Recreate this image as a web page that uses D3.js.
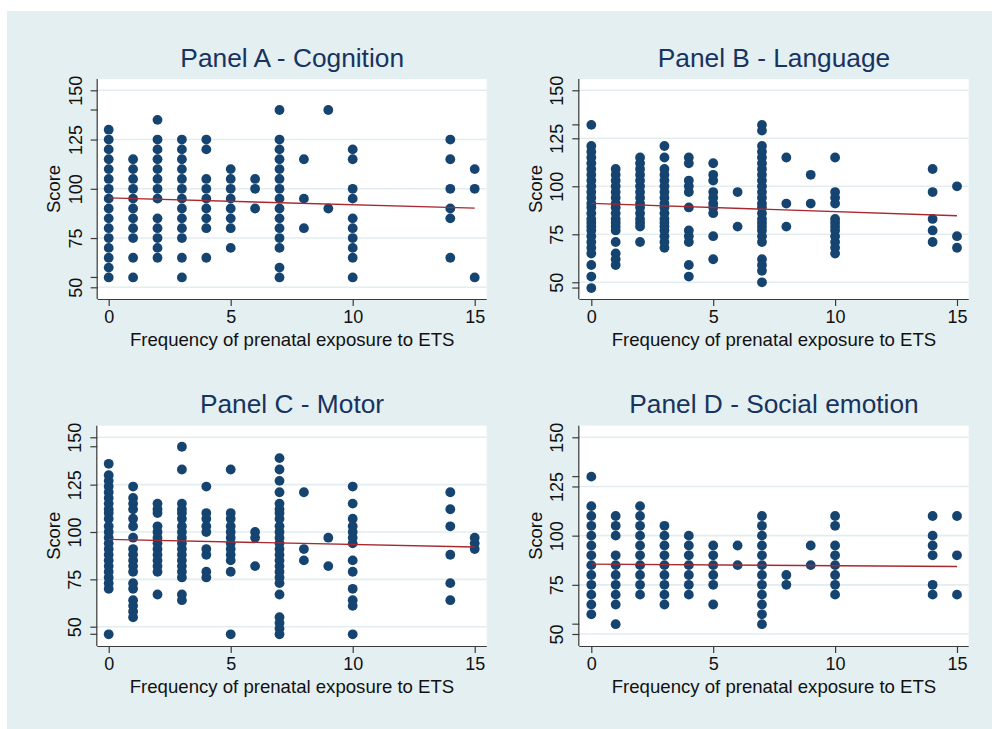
<!DOCTYPE html>
<html><head><meta charset="utf-8">
<script src="https://cdn.jsdelivr.net/npm/d3@7"></script>
<style>
html,body{margin:0;padding:0;background:#fff;}
svg{display:block;font-family:"Liberation Sans",Arial,sans-serif;}
</style></head>
<body>
<script>
// ---- data ----
const panelTitles = ["Panel A - Cognition","Panel B - Language","Panel C - Motor","Panel D - Social emotion"];
const xTicks = [0,5,10,15];
const yTicks = [50,75,100,125,150];
const xTitle = "Frequency of prenatal exposure to ETS";
const yTitle = "Score";

const cognition = [
  [0,[130,125,120,115,110,105,100,95,90,85,80,75,70,65,60,55]],
  [1,[115,110,105,100,95,90,85,80,75,65,55]],
  [2,[135,125,120,115,110,105,100,95,85,80,75,70,65]],
  [3,[125,120,115,110,105,100,95,90,85,80,75,65,55]],
  [4,[125,120,105,100,95,90,85,80,65]],
  [5,[110,105,100,95,90,85,80,70]],
  [6,[105,100,90]],
  [7,[140,125,120,115,110,105,100,95,90,85,80,75,70,60,55]],
  [8,[115,95,80]],
  [9,[140,90]],
  [10,[120,115,100,95,85,80,75,70,65,55]],
  [14,[125,115,100,90,85,65]],
  [15,[110,100,55]]
];
const language = [
  [0,[132,121,118,115,112,109,106,103,100,97,94,91,89,86,83,81,79,77,74,71,68,65,59,53,47]],
  [1,[109,106,103,100,97,94,91,89,86,83,81,79,77,71,65,62,59]],
  [2,[115,112,109,106,103,100,97,94,91,89,86,83,81,79,71]],
  [3,[121,115,109,106,103,100,97,94,91,89,86,83,81,79,77,74,71,68]],
  [4,[115,112,103,100,97,89,77,74,71,59,53]],
  [5,[112,106,103,97,94,91,89,86,74,62]],
  [6,[97,79]],
  [7,[132,129,121,118,115,112,109,106,103,100,97,94,91,89,86,83,81,79,77,74,71,62,59,56,50]],
  [8,[115,91,79]],
  [9,[106,91]],
  [10,[115,97,94,91,83,81,79,77,74,71,68,65]],
  [14,[109,97,83,77,71]],
  [15,[100,74,68]]
];
const motor = [
  [0,[136,130,127,124,121,118,115,112,110,107,103,100,97,94,91,88,85,82,79,76,73,70,46]],
  [1,[124,118,115,112,107,103,97,91,88,85,82,79,73,70,64,61,58,55]],
  [2,[115,112,110,103,100,97,94,91,88,85,82,79,67]],
  [3,[145,133,115,112,110,107,103,100,97,94,91,88,85,82,79,76,67,64]],
  [4,[124,110,107,103,100,91,88,79,76]],
  [5,[133,110,107,103,100,97,94,91,88,85,79,46]],
  [6,[100,97,82]],
  [7,[139,133,127,121,115,112,110,107,103,100,97,94,91,88,85,82,79,76,73,67,55,52,49,46]],
  [8,[121,91,85]],
  [9,[97,82]],
  [10,[124,115,107,103,100,97,94,85,79,70,64,61,46]],
  [14,[121,112,103,88,73,64]],
  [15,[97,94,91]]
];
const socialEmotion = [
  [0,[130,115,110,105,100,95,90,85,80,75,70,65,60]],
  [1,[110,105,100,90,85,80,75,70,65,55]],
  [2,[115,110,105,100,95,90,85,80,75,70]],
  [3,[105,100,95,90,85,80,75,70,65]],
  [4,[100,95,90,85,80,75,70]],
  [5,[95,90,85,80,75,65]],
  [6,[95,85]],
  [7,[110,105,100,95,90,85,80,75,70,65,60,55]],
  [8,[80,75]],
  [9,[95,85]],
  [10,[110,105,95,90,85,80,75,70]],
  [14,[110,100,95,90,75,70]],
  [15,[110,90,70]]
];
// fitted line values at x = 0 and x = 15
const fitX = [0,15];
const fitCognition = [95.4,90.2];
const fitLanguage = [91.1,84.7];
const fitMotor = [96.1,92.1];
const fitSocial = [85.5,84.3];

// ---- layout ----
const W = 992, H = 729;
const layout = [
  {left:97.7, right:486.7, top:79,    bottom:299, x0:108.7, x15:474.7, y50:287.3, y150:90.3},
  {left:579.3,right:968.7, top:79,    bottom:299, x0:591.3, x15:957,   y50:282.3, y150:90.3},
  {left:97.3, right:486.7, top:425.7, bottom:646, x0:108.7, x15:474.7, y50:626.7, y150:437.3},
  {left:579.3,right:968.7, top:425.7, bottom:646, x0:591.3, x15:957,   y50:634,   y150:437.3}
];
const panels = [
  {title:panelTitles[0], data:cognition, fit:fitCognition},
  {title:panelTitles[1], data:language, fit:fitLanguage},
  {title:panelTitles[2], data:motor, fit:fitMotor},
  {title:panelTitles[3], data:socialEmotion, fit:fitSocial}
];

const C = {bg:"#e4eff1", plot:"#ffffff", grid:"#e3edf0", axis:"#3a3a3a", dot:"#164470",
           fit:"#a8282f", title:"#17335f", text:"#111111"};

const svg = d3.select("body").append("svg").attr("width",W).attr("height",H);
svg.append("rect").attr("x",0).attr("y",0).attr("width",W).attr("height",H).attr("fill","#fff");
svg.append("rect").attr("x",7).attr("y",11).attr("width",W-7).attr("height",H-11).attr("fill",C.bg);

panels.forEach((p,i)=>{
  const L = layout[i];
  const x = d3.scaleLinear().domain([0,15]).range([L.x0,L.x15]);
  const y = d3.scaleLinear().domain([50,150]).range([L.y50,L.y150]);
  const g = svg.append("g");

  g.append("rect").attr("x",L.left).attr("y",L.top)
    .attr("width",L.right-L.left).attr("height",L.bottom-L.top).attr("fill",C.plot);

  // gridlines
  g.selectAll(".grid").data(yTicks).enter().append("line")
    .attr("x1",L.left).attr("x2",L.right)
    .attr("y1",d=>y(d)).attr("y2",d=>y(d))
    .attr("stroke",C.grid).attr("stroke-width",1.6);

  // points
  const pts = [];
  p.data.forEach(([xv,ys])=>ys.forEach(v=>pts.push([xv,v])));
  g.selectAll("circle").data(pts).enter().append("circle")
    .attr("cx",d=>x(d[0])).attr("cy",d=>y(d[1])).attr("r",4.9)
    .attr("fill",C.dot);

  // fit line
  g.append("line")
    .attr("x1",x(fitX[0])).attr("y1",y(p.fit[0]))
    .attr("x2",x(fitX[1])).attr("y2",y(p.fit[1]))
    .attr("stroke",C.fit).attr("stroke-width",1.4);

  // x axis
  const xa = g.append("g").attr("transform",`translate(0,${L.bottom})`)
    .call(d3.axisBottom(x).tickValues(xTicks).tickSize(7).tickPadding(4).tickFormat(d3.format("d")));
  xa.select(".domain").attr("d",`M${L.left},0.5H${L.right}`).attr("stroke",C.axis).attr("stroke-width",1.2);
  xa.selectAll(".tick line").attr("stroke",C.axis).attr("stroke-width",1.2);
  xa.selectAll(".tick text").attr("font-size",18).attr("fill",C.text)
    .attr("font-family","Liberation Sans, Arial, sans-serif").attr("dy","0.71em");

  // y axis
  const allY = pts.map(d=>d[1]);
  const yMinor = [d3.min(allY), d3.max(allY)];
  const ya = g.append("g").attr("transform",`translate(${L.left},0)`)
    .call(d3.axisLeft(y).tickValues(yTicks).tickSize(7).tickPadding(8).tickFormat(d3.format("d")));
  ya.select(".domain").attr("d",`M-0.5,${L.top}V${L.bottom}`).attr("stroke",C.axis).attr("stroke-width",1.2);
  ya.selectAll(".tick line").attr("stroke",C.axis).attr("stroke-width",1.2);
  ya.selectAll(".tick text").attr("font-size",18).attr("fill",C.text)
    .attr("font-family","Liberation Sans, Arial, sans-serif")
    .attr("x",null).attr("dy",null)
    .attr("text-anchor","middle")
    .attr("transform","translate(-16,0) rotate(-90)");
  ya.selectAll(".minor").data(yMinor).enter().append("line")
    .attr("x1",-7).attr("x2",0).attr("y1",d=>y(d)).attr("y2",d=>y(d))
    .attr("stroke",C.axis).attr("stroke-width",1.2);

  // titles
  const cx = (L.left+L.right)/2;
  g.append("text").attr("x",cx).attr("y",L.top-12.3).attr("text-anchor","middle")
    .attr("font-size",26.3).attr("fill",C.title).text(p.title);
  g.append("text").attr("x",cx).attr("y",L.bottom+46.5).attr("text-anchor","middle")
    .attr("font-size",18.6).attr("fill",C.text).text(xTitle);
  g.append("text").attr("transform",`translate(${L.left-37.5},${(L.top+L.bottom)/2}) rotate(-90)`)
    .attr("text-anchor","middle").attr("font-size",18.4).attr("fill",C.text).text(yTitle);
});
</script>
</body></html>
